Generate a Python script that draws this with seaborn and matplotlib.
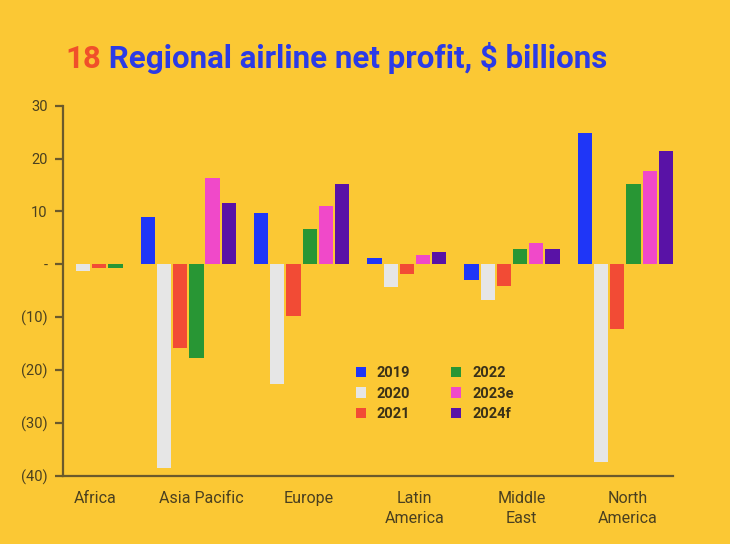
import numpy as np
import pandas as pd
import matplotlib
matplotlib.use("Agg")
import matplotlib.pyplot as plt
import seaborn as sns

# -----------------------------
# Data
# -----------------------------
regions = ["Africa", "Asia Pacific", "Europe", "Latin\nAmerica", "Middle\nEast", "North\nAmerica"]
years = ["2019", "2020", "2021", "2022", "2023e", "2024f"]

y2019 = [None, 8.9, 9.7, 1.1, -2.9, 24.9]
y2020 = [-1.3, -38.5, -22.6, -4.3, -6.8, -37.5]
y2021 = [-0.7, -15.8, -9.8, -1.8, -4.1, -12.3]
y2022 = [-0.7, -17.7, 6.7, None, 2.9, 15.1]
y2023e = [None, 16.3, 11.1, 1.8, 4.1, 17.6]
y2024f = [None, 11.5, 15.1, 2.3, 2.9, 21.4]

series = [y2019, y2020, y2021, y2022, y2023e, y2024f]

colors = ["#1f36f7", "#e6e6e6", "#f24b35", "#289634", "#f049c9", "#5912a6"]
palette = dict(zip(years, colors))

BG = "#fbc834"
INK = "#4a4020"

# bars sit one after another, with an empty slot between regions;
# missing values take no slot at all
rows = []
slot = 0
for i, region in enumerate(regions):
    for year, vals in zip(years, series):
        if vals[i] is None:
            continue
        rows.append({"slot": slot, "region": region, "year": year, "value": vals[i]})
        slot += 1
    slot += 1
df = pd.DataFrame(rows)

# -----------------------------
# Plot
# -----------------------------
sns.set_style("white")
plt.rcParams["font.family"] = ["Roboto", "DejaVu Sans"]

fig = plt.figure(figsize=(7.3, 5.44), dpi=100)
fig.patch.set_facecolor(BG)
ax = fig.add_axes([63 / 730, 1 - 475.7 / 544, 610 / 730, 370 / 544])
ax.set_facecolor(BG)

sns.barplot(
    data=df, x="slot", y="value", hue="year", hue_order=years,
    palette=palette, native_scale=True, dodge=False, width=0.88,
    saturation=1, linewidth=0, ax=ax,
)

ax.set_xlim(-1.24, df["slot"].max() + 0.44)
ax.set_ylim(-40, 30)

yt = list(range(-40, 31, 10))
ax.set_yticks(yt)
ax.set_yticklabels(["-" if v == 0 else (f"({-v})" if v < 0 else str(v)) for v in yt])

# region labels are evenly spaced along the axis
label_pos = np.linspace(0.74, 33.66, len(regions))
ax.set_xticks(label_pos)
ax.set_xticklabels(regions, linespacing=1.45)

ax.set_xlabel("")
ax.set_ylabel("")

for side in ["top", "right"]:
    ax.spines[side].set_visible(False)
for side in ["left", "bottom"]:
    ax.spines[side].set_color("#6b5a2b")
    ax.spines[side].set_linewidth(1.6)

ax.tick_params(axis="y", length=6, width=1.6, color="#6b5a2b", pad=5,
               labelsize=10.5, labelcolor=INK, left=True)
ax.tick_params(axis="x", length=0, pad=11, labelsize=11.5, labelcolor=INK)

sns.move_legend(
    ax, loc="upper left", bbox_to_anchor=(0.468, 0.316), ncol=2,
    frameon=False, title=None, handlelength=0.7, handleheight=0.7,
    handletextpad=0.75, columnspacing=2.8, labelspacing=0.45, borderpad=0,
    prop={"weight": "bold", "size": 10.5},
)
for t in ax.get_legend().get_texts():
    t.set_color("#3a3118")

# title in two colours
t1 = fig.text(65 / 730, 1 - 68 / 544, "18", fontsize=22.5, fontweight="bold",
              color="#f0502a", va="baseline")
ax.annotate(" Regional airline net profit, $ billions", xy=(1, 0), xycoords=t1,
            va="bottom", ha="left", fontsize=22.5, fontweight="bold",
            color="#2b3be6", annotation_clip=False)

fig.savefig("out.png", dpi=100, facecolor=BG)
